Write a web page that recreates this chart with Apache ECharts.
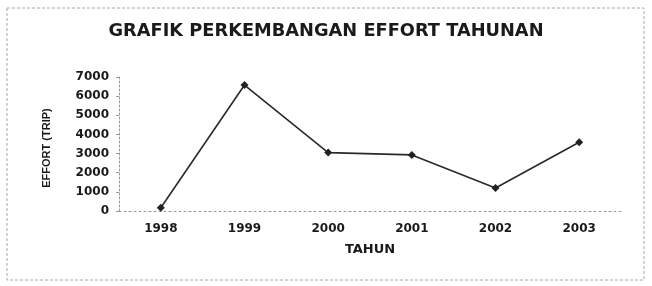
<!DOCTYPE html>
<html><head><meta charset="utf-8">
<script src="https://cdn.jsdelivr.net/npm/echarts@6/dist/echarts.min.js"></script>
<style>html,body{margin:0;padding:0;background:#fff}#c{width:652px;height:286px}</style>
</head><body><div id="c"></div>
<script>
const years = ['1998','1999','2000','2001','2002','2003'];
const effort = [170, 6580, 3050, 2930, 1200, 3590];
const yTicks = [0,1000,2000,3000,4000,5000,6000,7000];
const titleText = 'GRAFIK PERKEMBANGAN EFFORT TAHUNAN';
const xName = 'TAHUN';
const yName = 'EFFORT (TRIP)';

const chart = echarts.init(document.getElementById('c'), null, {renderer:'canvas'});
chart.setOption({
  animation:false,
  backgroundColor:'#fff',
  title:{text:titleText,left:'center',top:17,textStyle:{fontFamily:'DejaVu Sans',fontWeight:'bold',fontSize:17.8,color:'#1a1a1a'}},
  graphic:[{type:'rect',shape:{x:7,y:8,width:637,height:272},style:{fill:'none',stroke:'#aaa',lineWidth:1,lineDash:[3,2]},silent:true}],
  grid:{left:119,right:31,top:77,bottom:75},
  xAxis:{type:'category',data:years,boundaryGap:true,
    name:xName,nameLocation:'middle',nameGap:32,
    nameTextStyle:{fontFamily:'DejaVu Sans',fontWeight:'bold',fontSize:13,color:'#1a1a1a'},
    axisLine:{lineStyle:{color:'#999',type:[2,3],width:1}},
    axisTick:{show:false},
    axisLabel:{fontFamily:'DejaVu Sans',fontWeight:'bold',fontSize:12,color:'#1a1a1a',margin:12}},
  yAxis:{type:'value',min:0,max:7000,interval:1000,
    name:yName,nameLocation:'middle',nameGap:67,nameRotate:90,
    nameTextStyle:{fontFamily:'Liberation Sans Narrow, Liberation Sans',fontWeight:'bold',fontSize:11,color:'#1a1a1a',padding:[0,8,0,0]},
    axisLine:{show:true,lineStyle:{color:'#999',type:[2,2],width:1}},
    axisTick:{show:true,length:3,lineStyle:{color:'#999'}},
    splitLine:{show:false},
    axisLabel:{fontFamily:'DejaVu Sans',fontWeight:'bold',fontSize:12,color:'#1a1a1a',margin:10,
      formatter:function(v){return yTicks.indexOf(v)>=0?String(v):'';}}},
  series:[{type:'line',data:effort,symbol:'diamond',symbolSize:8,
    lineStyle:{color:'#2a2a2a',width:1.6},
    itemStyle:{color:'#222'}}]
});
</script></body></html>
